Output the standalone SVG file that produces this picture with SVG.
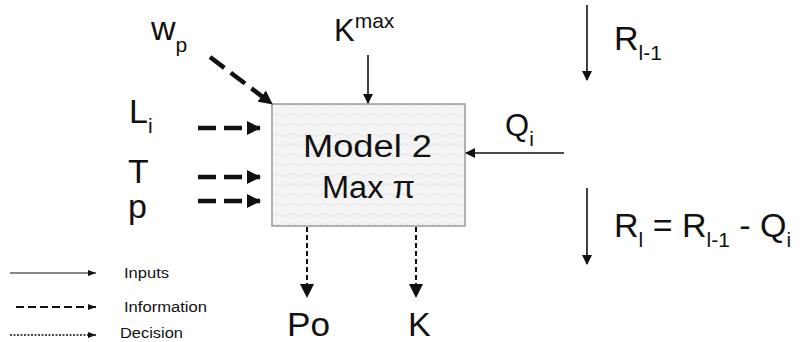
<svg xmlns="http://www.w3.org/2000/svg" width="805" height="342" viewBox="0 0 805 342">
<style>
text{font-family:"Liberation Sans",Arial,sans-serif;fill:#111}
.big{font-size:34px}
.mid{font-size:31px}
.sub{font-size:21px}
.leg{font-size:14px}
.solid{stroke:#111;stroke-width:1.6;fill:none}
.info{stroke:#111;stroke-width:4.5;fill:none;stroke-dasharray:18 8}
.dec{stroke:#111;stroke-width:2;fill:none;stroke-dasharray:5 3}
</style>
<defs>
<marker id="ah" markerWidth="10" markerHeight="10" refX="9" refY="5" orient="auto" markerUnits="userSpaceOnUse"><path d="M0,0 L10,5 L0,10 Z" fill="#111"/></marker>
<marker id="ahb" markerWidth="14" markerHeight="14" refX="13" refY="7" orient="auto" markerUnits="userSpaceOnUse"><path d="M0,0 L14,7 L0,14 Z" fill="#111"/></marker>
<marker id="ahs" markerWidth="8" markerHeight="8" refX="8" refY="4" orient="auto" markerUnits="userSpaceOnUse"><path d="M0,1 L8,4 L0,7 Z" fill="#111"/></marker>
<pattern id="wave" width="16" height="10" patternUnits="userSpaceOnUse">
<rect width="16" height="10" fill="#f4f4f4"/>
<path d="M0,5 Q4,2 8,5 T16,5" fill="none" stroke="#e0e0e0" stroke-width="0.8"/>
</pattern>
</defs>
<g id="model">
<rect x="272" y="104" width="193" height="122" fill="url(#wave)" stroke="#999" stroke-width="1.5"/>
<text class="mid" x="303" y="157" textLength="129" lengthAdjust="spacingAndGlyphs">Model 2</text>
<text class="mid" x="322" y="198" textLength="93" lengthAdjust="spacingAndGlyphs">Max π</text>
</g>
<g id="labels">
<text class="big" x="151" y="40">w<tspan class="sub" dy="12">p</tspan></text>
<text class="mid" x="334" y="41" font-size="32">K<tspan class="sub" font-size="23" dy="-13">max</tspan></text>
<text class="big" x="129" y="123">L<tspan class="sub" dy="10">i</tspan></text>
<text class="big" x="128" y="183">T</text>
<text class="big" x="128" y="218">p</text>
<text class="mid" x="505" y="136">Q<tspan class="sub" dy="10">i</tspan></text>
<text class="big" x="614" y="50">R<tspan class="sub" dy="10">l-1</tspan></text>
<text class="big" font-size="36" x="614" y="237">R<tspan class="sub" font-size="22" dy="10">l</tspan><tspan dy="-10"> = R</tspan><tspan class="sub" font-size="22" dy="10">l-1</tspan><tspan dy="-10"> - Q</tspan><tspan class="sub" font-size="22" dy="10">i</tspan></text>
<text class="big" x="287" y="336" textLength="43" lengthAdjust="spacingAndGlyphs">Po</text>
<text class="big" x="408" y="336">K</text>
<text class="leg" x="124" y="278" textLength="45" lengthAdjust="spacingAndGlyphs">Inputs</text>
<text class="leg" x="124" y="312" textLength="83" lengthAdjust="spacingAndGlyphs">Information</text>
<text class="leg" x="120" y="338" textLength="63" lengthAdjust="spacingAndGlyphs">Decision</text>
</g>
<g id="connectors">
<line class="solid" x1="368" y1="55" x2="368" y2="103" marker-end="url(#ah)"/>
<line class="solid" x1="564" y1="153" x2="466" y2="153" marker-end="url(#ah)"/>
<line class="solid" x1="587" y1="5" x2="587" y2="80" marker-end="url(#ah)"/>
<line class="solid" x1="587" y1="188" x2="587" y2="264" marker-end="url(#ah)"/>
<line class="info" x1="210" y1="57" x2="272" y2="104" marker-end="url(#ahb)"/>
<line class="info" x1="198" y1="128" x2="260" y2="128" marker-end="url(#ahb)"/>
<line class="info" x1="198" y1="177" x2="260" y2="177" marker-end="url(#ahb)"/>
<line class="info" x1="198" y1="201" x2="260" y2="201" marker-end="url(#ahb)"/>
<line class="dec" x1="307" y1="227" x2="307" y2="297" marker-end="url(#ahb)"/>
<line class="dec" x1="416" y1="227" x2="416" y2="297" marker-end="url(#ahb)"/>
<line class="solid" style="stroke-width:1.2" x1="10" y1="273" x2="96" y2="273" marker-end="url(#ahs)"/>
<line class="info" style="stroke-width:2.2;stroke-dasharray:8 4" x1="16" y1="307" x2="96" y2="307" marker-end="url(#ahs)"/>
<line class="dec" style="stroke-width:1.5;stroke-dasharray:2 1.5" x1="10" y1="335" x2="96" y2="335" marker-end="url(#ahs)"/>
</g>
</svg>
